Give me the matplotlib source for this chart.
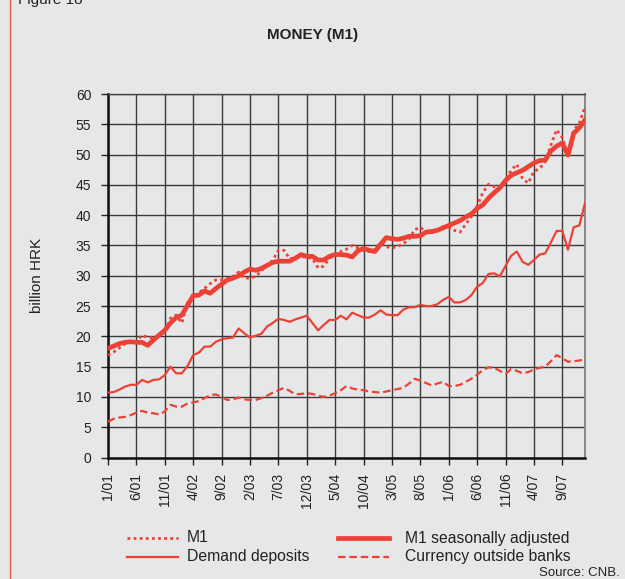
import numpy as np
from matplotlib import pyplot as plt
from matplotlib.lines import Line2D

plt.rcParams['font.family'] = ['Liberation Sans', 'DejaVu Sans']

RED = '#ee4136'
BG = '#e6e7e8'
W, H = 625, 579

# monthly data, 1/01 .. 1/08, billion HRK
tick_labels = ['1/01', '6/01', '11/01', '4/02', '9/02', '2/03', '7/03', '12/03', '5/04',
               '10/04', '3/05', '8/05', '1/06', '6/06', '11/06', '4/07', '9/07']

m1 = [16.9, 17.4, 18.1, 18.8, 19.0, 19.1, 20.2, 19.8, 19.8, 20.2,
      20.6, 23.0, 23.5, 22.2, 25.6, 26.6, 27.2, 27.9, 28.7, 29.3,
      29.3, 29.5, 29.9, 30.6, 29.6, 29.6, 29.9, 30.8, 31.8, 32.5,
      34.2, 34.2, 32.8, 33.0, 33.1, 33.1, 32.8, 31.3, 31.6, 32.9,
      33.4, 34.0, 34.4, 35.0, 34.6, 34.2, 34.0, 34.3, 35.5, 34.8,
      34.6, 34.8, 35.3, 36.0, 37.6, 38.0, 37.2, 37.1, 37.5, 38.1,
      38.0, 37.5, 37.2, 38.5, 39.8, 41.5, 43.7, 45.1, 44.7, 44.6,
      45.9, 47.4, 48.4, 46.0, 45.3, 47.2, 47.7, 48.8, 51.6, 54.1,
      52.8, 49.9, 54.0, 55.2, 57.9]

m1_sa = [18.0, 18.4, 18.8, 19.0, 19.1, 19.0, 19.0, 18.5, 19.4, 20.2,
         21.0, 22.2, 23.1, 23.5, 25.1, 26.7, 26.8, 27.5, 27.1, 27.9,
         28.6, 29.3, 29.6, 30.0, 30.6, 31.1, 30.9, 31.2, 31.7, 32.2,
         32.4, 32.4, 32.4, 32.9, 33.5, 33.2, 33.2, 32.6, 32.6, 33.2,
         33.5, 33.5, 33.4, 33.1, 34.1, 34.5, 34.2, 34.0, 35.2, 36.3,
         36.1, 36.0, 36.2, 36.5, 36.5, 36.6, 37.2, 37.3, 37.5, 37.9,
         38.3, 38.7, 39.1, 39.7, 40.2, 41.1, 41.7, 42.8, 43.7, 44.5,
         45.7, 46.6, 47.0, 47.4, 48.0, 48.6, 49.0, 49.1, 50.6, 51.4,
         51.9, 49.9, 53.5, 54.4, 55.7]

demand = [10.7, 10.8, 11.2, 11.7, 12.0, 12.0, 12.8, 12.4, 12.8, 12.9,
          13.6, 15.0, 13.9, 13.9, 15.1, 16.9, 17.3, 18.3, 18.3, 19.1,
          19.5, 19.7, 19.8, 21.3, 20.5, 19.8, 20.1, 20.4, 21.6, 22.2,
          22.9, 22.7, 22.4, 22.8, 23.1, 23.4, 22.2, 21.0, 21.9, 22.7,
          22.7, 23.4, 22.8, 23.9, 23.5, 23.1, 23.1, 23.6, 24.3, 23.6,
          23.5, 23.5, 24.4, 24.8, 24.8, 25.2, 25.0, 25.0, 25.3, 26.0,
          26.5, 25.6, 25.6, 26.0, 26.8, 28.2, 28.8, 30.3, 30.4, 29.9,
          31.6, 33.3, 34.0, 32.3, 31.8, 32.6, 33.5, 33.7, 35.5, 37.4,
          37.4, 34.3, 38.0, 38.3, 42.0]

currency = [5.9, 6.4, 6.6, 6.7, 7.0, 7.4, 7.7, 7.4, 7.3, 7.1,
            7.6, 8.7, 8.4, 8.4, 8.9, 9.1, 9.3, 9.8, 10.3, 10.4,
            10.0, 9.5, 9.6, 9.9, 9.6, 9.5, 9.5, 9.8, 10.2, 10.7,
            11.1, 11.5, 11.0, 10.4, 10.5, 10.6, 10.5, 10.2, 10.0, 10.2,
            10.6, 11.1, 11.8, 11.4, 11.2, 11.1, 10.9, 10.8, 10.7, 10.9,
            11.1, 11.3, 11.5, 12.2, 13.0, 12.7, 12.3, 11.9, 12.2, 12.5,
            11.8, 11.8, 12.0, 12.5, 13.0, 13.7, 14.4, 14.9, 14.8, 14.3,
            13.8, 14.6, 14.3, 13.9, 14.1, 14.5, 14.8, 15.0, 15.9, 16.9,
            16.4, 15.8, 15.9, 16.0, 16.3]

DOTTED = (0, (1, 1.2))
DASHED = (0, (3.4, 1.7))


def fx(x):
    return x / W


def fy(y):
    return 1 - y / H


fig = plt.figure(figsize=(W / 100, H / 100), dpi=100, facecolor=BG)
ax = fig.add_axes([fx(108), fy(457.5), fx(585) - fx(108), fy(94) - fy(457.5)])
ax.set_facecolor(BG)

months = np.arange(len(m1))

ax.plot(months, currency, color=RED, lw=1.6, ls=DASHED, zorder=3)
ax.plot(months, demand, color=RED, lw=1.6, zorder=3)
ax.plot(months, m1, color=RED, lw=2.0, ls=DOTTED, zorder=3)
ax.plot(months, m1_sa, color=RED, lw=3.4, zorder=4)

ax.set_xlim(0, len(m1) - 1)
ax.set_ylim(0, 60)
ax.set_yticks(np.arange(0, 61, 5))
ax.set_xticks(months[::5][:len(tick_labels)])
ax.set_xticklabels(tick_labels, rotation=90)
ax.tick_params(axis='both', direction='out', length=5, width=1, colors='#222222', labelsize=10)
ax.tick_params(axis='y', pad=7)
ax.tick_params(axis='x', pad=6)
ax.grid(True, color='#3a3a3a', lw=1.0, zorder=1)
ax.set_axisbelow(True)

for side in ('left', 'bottom'):
    ax.spines[side].set_linewidth(1.8)
    ax.spines[side].set_color('#111111')
ax.spines['top'].set_color('#444444')
ax.spines['top'].set_linewidth(1.0)
ax.spines['right'].set_color('#888888')
ax.spines['right'].set_linewidth(1.4)

fig.text(fx(37), fy(275), 'billion HRK', rotation=90, ha='center', va='center',
         fontsize=11, color='#222222')
fig.text(fx(313), fy(35), 'MONEY (M1)', ha='center', va='center',
         fontsize=11, fontweight='bold', color='#222222')
# cut off at the top edge, as in the source page
fig.text(fx(18), fy(4), 'Figure 18', ha='left', va='baseline', fontsize=11, color='#222222')

# left red frame line
fig.add_artist(Line2D([fx(10), fx(10)], [0, 1], transform=fig.transFigure, color='#f05a4a', lw=1.0))

# legend
entries = [
    (127, 538, 187, dict(lw=2.0, ls=DOTTED), 'M1'),
    (338, 538, 405, dict(lw=3.4), 'M1 seasonally adjusted'),
    (127, 557, 187, dict(lw=1.6), 'Demand deposits'),
    (338, 557, 405, dict(lw=1.6, ls=DASHED), 'Currency outside banks'),
]
for x0, y0, xt, style, label in entries:
    fig.add_artist(Line2D([fx(x0), fx(x0 + 51)], [fy(y0), fy(y0)], transform=fig.transFigure,
                          color=RED, **style))
    fig.text(fx(xt), fy(y0), label, ha='left', va='center', fontsize=11.3, color='#222222')

fig.text(fx(620), fy(573), 'Source: CNB.', ha='right', va='center', fontsize=9.5, color='#222222')

plt.savefig('out.png', dpi=100, facecolor=BG)
